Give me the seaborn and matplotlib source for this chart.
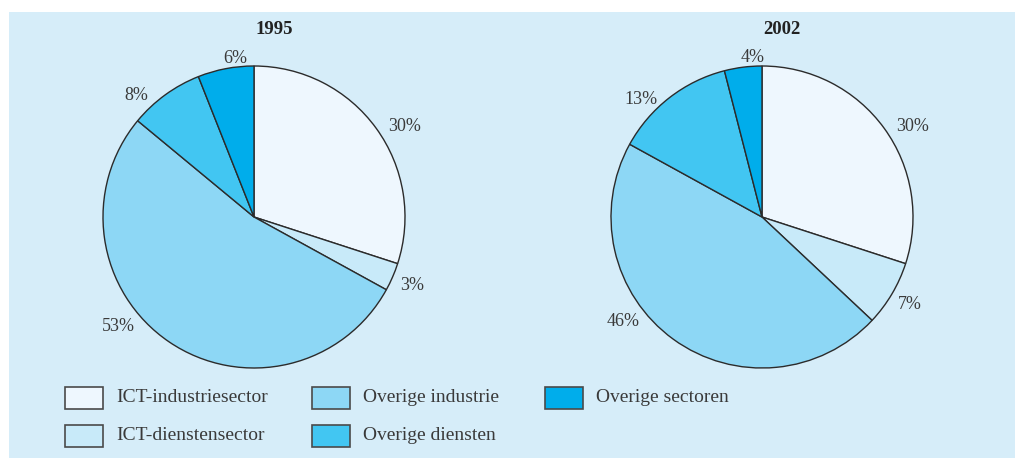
import numpy as np
import matplotlib
matplotlib.use("Agg")
import matplotlib.pyplot as plt
from matplotlib.patches import Rectangle
import seaborn as sns

# Shares of employment per sector (percent)
categories = ["ICT-industriesector", "ICT-dienstensector", "Overige industrie",
              "Overige diensten", "Overige sectoren"]
years = ["1995", "2002"]
shares_1995 = [30, 3, 53, 8, 6]
shares_2002 = [30, 7, 46, 13, 4]

sns.set_theme(style="white")
plt.rcParams["font.family"] = ["Liberation Serif", "DejaVu Serif"]

palette = sns.color_palette(["#eef7fe", "#c8eaf9", "#8dd7f5", "#42c6f2", "#00adeb"])
panel_color = "#d6edf9"
text_color = "#3a3a3a"
edge_color = "#2b2b2b"

W, H = 1015, 458
fig = plt.figure(figsize=(W / 100, H / 100), dpi=100)
fig.patch.set_facecolor("white")
fig.patches.append(Rectangle((9 / W, 0), 1 - 9 / W, 1 - 12 / H,
                             transform=fig.transFigure, facecolor=panel_color,
                             edgecolor="none", zorder=-10))

# label placement tweaks: angular shift (deg) and radial factor per wedge
label_shift = [-5, 0, -17, 8, -4]
label_rad = [1.16, 1.14, 1.155, 1.12, 1.06]

radius_px = 151
centers = [(254, 217), (762, 217)]
title_dx = 20

for (cx, cy), year, shares in zip(centers, years, [shares_1995, shares_2002]):
    ax = fig.add_axes([(cx - radius_px) / W, (H - cy - radius_px) / H,
                       2 * radius_px / W, 2 * radius_px / H])
    ax.set_facecolor("none")
    ax.patch.set_alpha(0)
    wedges, _ = ax.pie(shares, colors=palette, startangle=90, counterclock=False,
                       radius=1.0,
                       wedgeprops=dict(edgecolor=edge_color, linewidth=1.0))
    ax.set_xlim(-1, 1)
    ax.set_ylim(-1, 1)
    ax.set_aspect("equal")
    ax.axis("off")
    for w, v, dshift, rf in zip(wedges, shares, label_shift, label_rad):
        mid = np.deg2rad((w.theta1 + w.theta2) / 2 + dshift)
        ax.text(rf * np.cos(mid), rf * np.sin(mid), f"{v}%", ha="center",
                va="center", fontsize=13, color=text_color, clip_on=False)
    fig.text((cx + title_dx) / W, 1 - 30 / H, year, ha="center", va="center",
             fontsize=13.5, fontweight="bold", color="#222222")

# legend: two rows, filled column by column
col_x = [65, 312, 545]
row_y = [398, 436]
box_w, box_h = 38, 22
for i, (name, col) in enumerate(zip(categories, palette)):
    x = col_x[i // 2]
    y = row_y[i % 2]
    fig.patches.append(Rectangle((x / W, (H - y - box_h / 2) / H), box_w / W, box_h / H,
                                 transform=fig.transFigure, facecolor=col,
                                 edgecolor="#4a4a4a", linewidth=1.2, zorder=2))
    fig.text((x + box_w + 13) / W, (H - y) / H, name, ha="left", va="center",
             fontsize=14, color=text_color)

fig.savefig("out.png", dpi=100, facecolor=fig.get_facecolor())
